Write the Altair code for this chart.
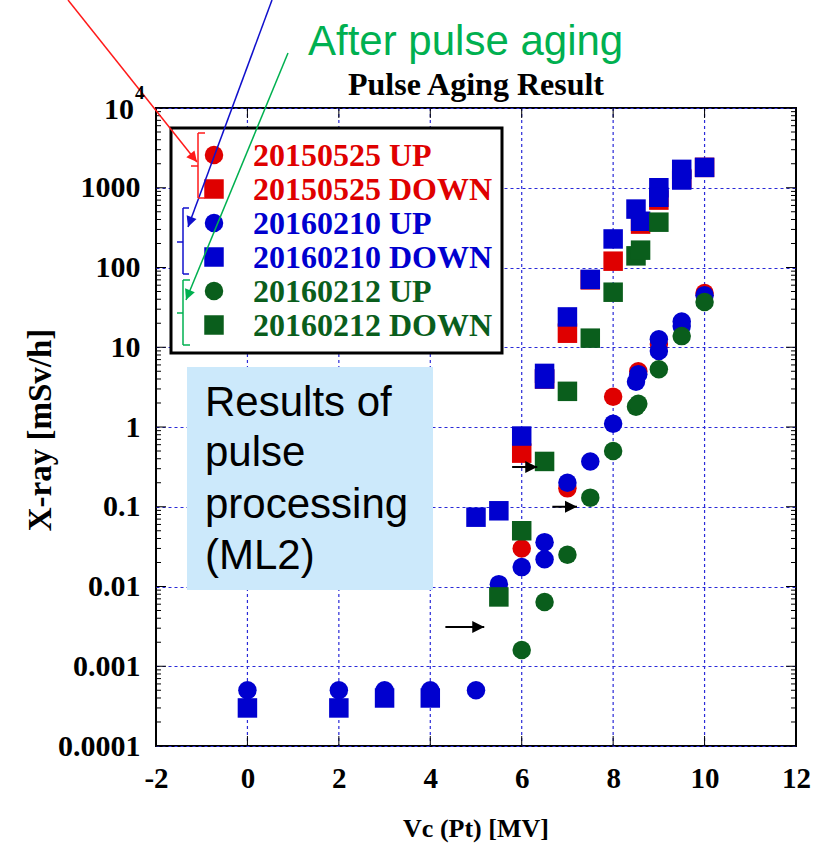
import altair as alt
import pandas as pd

# ---------------- data ----------------
x_up_150525 = [6, 7, 8, 8.55, 9, 10]
y_up_150525 = [0.030, 0.17, 2.4, 5.0, 11, 48]
x_dn_150525 = [6, 6.5, 7, 7.5, 8, 8.6, 9, 9.5, 10]
y_dn_150525 = [0.47, 4.0, 15, 70, 120, 350, 700, 1300, 1800]

x_up_160210 = [0, 2, 3, 4, 5, 5.5, 6, 6.5, 6.5, 7, 7.5, 8, 8.55, 8.5, 9, 9, 9.5, 9.5, 10]
y_up_160210 = [0.0005, 0.0005, 0.0005, 0.0005, 0.0005, 0.0107, 0.0175, 0.036, 0.022,
               0.20, 0.37, 1.1, 4.6, 3.7, 12.6, 9.0, 21, 18.5, 45]
x_dn_160210 = [0, 2, 3, 4, 5, 5.5, 6, 6.5, 6.5, 7, 7.5, 8, 8.5, 8.6, 9, 9, 9.5, 9.5, 10]
y_dn_160210 = [0.0003, 0.0003, 0.0004, 0.0004, 0.074, 0.089, 0.77, 4.7, 4.0,
               24, 71, 228, 540, 380, 1000, 760, 1700, 1250, 1800]

x_up_160212 = [6, 6.5, 7, 7.5, 8, 8.5, 8.55, 9, 9.5, 10]
y_up_160212 = [0.0016, 0.0064, 0.025, 0.13, 0.50, 1.8, 1.95, 5.3, 13.8, 37]
x_dn_160212 = [5.5, 6, 6.5, 7, 7.5, 8, 8.5, 8.6, 9]
y_dn_160212 = [0.0074, 0.050, 0.37, 2.8, 13, 49, 140, 165, 370]

series_names = ["20150525 UP", "20150525 DOWN", "20160210 UP", "20160210 DOWN",
                "20160212 UP", "20160212 DOWN"]
series_colors = ["#df0000", "#df0000", "#0000cf", "#0000cf", "#0a5e1c", "#0a5e1c"]
series_shapes = ["circle", "square", "circle", "square", "circle", "square"]
series_x = [x_up_150525, x_dn_150525, x_up_160210, x_dn_160210, x_up_160212, x_dn_160212]
series_y = [y_up_150525, y_dn_150525, y_up_160210, y_dn_160210, y_up_160212, y_dn_160212]

x_tick_values = [-2, 0, 2, 4, 6, 8, 10, 12]
x_grid_values = [0, 2, 4, 6, 8, 10]
y_tick_values = [1e-4, 1e-3, 1e-2, 1e-1, 1, 10, 100, 1000, 1e4]
y_minor_values = [k * d for d in [1e-4, 1e-3, 1e-2, 1e-1, 1, 10, 100, 1000] for k in range(2, 10)]

# black arrows inside the plot (data coordinates)
arrow_x_start = [5.79, 6.67, 4.33]
arrow_x_end = [6.34, 7.21, 5.18]
arrow_y = [0.315, 0.100, 0.0031]

# ---------------- layout ----------------
W, H = 640, 638
PL, PT = 156, 108
SERIF = "Liberation Serif"
SANS = "Liberation Sans"
GRID = "#2a2ad8"

xs = alt.Scale(domain=[-2, 12], nice=False, zero=False)
ys = alt.Scale(type="log", domain=[1e-4, 1e4], nice=False)

x_axis = alt.Axis(values=x_tick_values, ticks=False, domain=False, grid=False,
                  labelFont=SERIF, labelFontWeight="bold", labelFontSize=29,
                  labelColor="black", labelPadding=18, labelFlush=False,
                  labelOverlap=False,
                  labelExpr="replace(datum.label, '\u2212', '-')", title=None)
y_axis = alt.Axis(values=y_tick_values, ticks=False, domain=False, grid=True,
                  gridColor=GRID, gridDash=[3, 3], gridWidth=1.2,
                  labelFont=SERIF, labelFontWeight="bold", labelFontSize=30,
                  labelColor="black", labelPadding=16, labelOverlap=False,
                  format=".4~f",
                  labelExpr="datum.value > 9999 ? '' : datum.label", title=None)


def X(field="x"):
    return alt.X(f"{field}:Q", scale=xs, axis=x_axis)


def Y(field="y"):
    return alt.Y(f"{field}:Q", scale=ys, axis=y_axis)


def px(v):
    return alt.X(f"{v}:Q", scale=None, axis=None)


def py(v):
    return alt.Y(f"{v}:Q", scale=None, axis=None)


layers = []

# vertical grid lines
grid_df = pd.DataFrame({"x": x_grid_values})
layers.append(alt.Chart(grid_df).mark_rule(color=GRID, strokeDash=[3, 3], strokeWidth=1.2)
              .encode(x=X(), y=alt.value(0), y2=alt.value(H)))

# blue text box
box_df = pd.DataFrame({"x": [187 - PL], "x2": [433 - PL], "y": [367 - PT], "y2": [590 - PT]})
layers.append(alt.Chart(box_df).mark_rect(color="#cce9fb")
              .encode(x=px("x"), x2="x2:Q", y=py("y"), y2="y2:Q"))
box_lines = ["Results of", "pulse", "processing", "(ML2)"]
box_text_df = pd.DataFrame({"t": box_lines, "x": [205 - PL] * 4,
                            "y": [416 - PT, 466 - PT, 518 - PT, 569 - PT]})
layers.append(alt.Chart(box_text_df).mark_text(font=SANS, fontSize=42, align="left",
                                               baseline="alphabetic", color="black")
              .encode(x=px("x"), y=py("y"), text="t:N"))

# inward ticks
maj_y = pd.DataFrame({"y": y_tick_values})
min_y = pd.DataFrame({"y": y_minor_values})
maj_x = pd.DataFrame({"x": x_tick_values})
for df, ln in [(maj_y, 10), (min_y, 5)]:
    layers.append(alt.Chart(df).mark_rule(color="black", strokeWidth=1)
                  .encode(y=Y(), x=alt.value(0), x2=alt.value(ln)))
    layers.append(alt.Chart(df).mark_rule(color="black", strokeWidth=1)
                  .encode(y=Y(), x=alt.value(W), x2=alt.value(W - ln)))
layers.append(alt.Chart(maj_x).mark_rule(color="black", strokeWidth=1)
              .encode(x=X(), y=alt.value(H), y2=alt.value(H - 10)))
layers.append(alt.Chart(maj_x).mark_rule(color="black", strokeWidth=1)
              .encode(x=X(), y=alt.value(0), y2=alt.value(10)))

# data points
for name, col, shp, xv, yv in zip(series_names, series_colors, series_shapes, series_x, series_y):
    df = pd.DataFrame({"x": xv, "y": yv, "series": name})
    size = 342 if shp == "circle" else 380
    layers.append(alt.Chart(df).mark_point(shape=shp, filled=True, opacity=1,
                                           size=size, color=col, strokeWidth=0)
                  .encode(x=X(), y=Y()))

# black arrows
arr_df = pd.DataFrame({"xs": arrow_x_start, "xe": arrow_x_end, "y": arrow_y})
layers.append(alt.Chart(arr_df).mark_rule(color="black", strokeWidth=2)
              .encode(x=X("xs"), x2="xe:Q", y=Y()))
layers.append(alt.Chart(arr_df).mark_point(shape="M-2,-1L0,0L-2,1Z", filled=True, opacity=1,
                                           size=144, color="black", strokeWidth=0)
              .encode(x=X("xe"), y=Y()))

# legend box
leg_df = pd.DataFrame({"x": [171 - PL], "x2": [502 - PL], "y": [128 - PT], "y2": [353 - PT]})
layers.append(alt.Chart(leg_df).mark_rect(fill="white", stroke="black", strokeWidth=3)
              .encode(x=px("x"), x2="x2:Q", y=py("y"), y2="y2:Q"))
row_y = [155, 189, 223, 257, 291, 325]
leg_rows = pd.DataFrame({"t": series_names, "c": series_colors, "s": series_shapes,
                         "y": [v - PT for v in row_y], "xm": [214 - PL] * 6,
                         "xt": [253 - PL] * 6})
for shp in ["circle", "square"]:
    sub = leg_rows[leg_rows.s == shp]
    layers.append(alt.Chart(sub).mark_point(shape=shp, filled=True, opacity=1,
                                            size=342 if shp == "circle" else 380, strokeWidth=0)
                  .encode(x=px("xm"), y=py("y"), color=alt.Color("c:N", scale=None)))
layers.append(alt.Chart(leg_rows).mark_text(font=SERIF, fontWeight="bold", fontSize=32,
                                            align="left", baseline="middle", dy=1)
              .encode(x=px("xt"), y=py("y"), text="t:N", color=alt.Color("c:N", scale=None)))

# colored annotation lines / brackets (page pixel positions)
RED, BLUE, GREEN = "#ff1a1a", "#1010cc", "#00b050"
seg = [
    (68, 0, 197, 162, RED), (272, 0, 188, 227, BLUE), (288, 53, 186, 300, GREEN),
    (198, 133, 198, 198, RED), (198, 133, 205, 133, RED), (198, 198, 205, 198, RED),
    (191, 166, 198, 166, RED),
    (183, 208, 183, 274, BLUE), (183, 208, 189, 208, BLUE), (183, 274, 189, 274, BLUE),
    (177, 242, 183, 242, BLUE),
    (183, 280, 183, 345, GREEN), (183, 280, 190, 280, GREEN), (183, 345, 190, 345, GREEN),
    (177, 313, 183, 313, GREEN),
]
seg_df = pd.DataFrame({"x": [s[0] - PL for s in seg], "y": [s[1] - PT for s in seg],
                       "x2": [s[2] - PL for s in seg], "y2": [s[3] - PT for s in seg],
                       "c": [s[4] for s in seg]})
layers.append(alt.Chart(seg_df).mark_rule(strokeWidth=1.5)
              .encode(x=px("x"), y=py("y"), x2="x2:Q", y2="y2:Q",
                      color=alt.Color("c:N", scale=None)))
heads_df = pd.DataFrame({"x": [197 - PL, 188 - PL, 186 - PL], "y": [162 - PT, 227 - PT, 300 - PT],
                         "a": [51, 110, 112], "c": [RED, BLUE, GREEN]})
layers.append(alt.Chart(heads_df).mark_point(shape="M-2,-1L0,0L-2,1Z", filled=True, opacity=1,
                                             size=110, strokeWidth=0)
              .encode(x=px("x"), y=py("y"), angle=alt.Angle("a:Q", scale=None),
                      color=alt.Color("c:N", scale=None)))

# texts: titles, 10^4 label, annotation
title_df = pd.DataFrame({"t": ["Pulse Aging Result"], "x": [476 - PL], "y": [95 - PT]})
layers.append(alt.Chart(title_df).mark_text(font=SERIF, fontWeight="bold", fontSize=32,
                                            align="center", baseline="alphabetic", color="black")
              .encode(x=px("x"), y=py("y"), text="t:N"))
xtitle = pd.DataFrame({"t": ["Vc (Pt) [MV]"], "x": [476 - PL], "y": [837 - PT]})
layers.append(alt.Chart(xtitle).mark_text(font=SERIF, fontWeight="bold", fontSize=26,
                                          align="center", baseline="alphabetic", color="black")
              .encode(x=px("x"), y=py("y"), text="t:N"))
ytitle = pd.DataFrame({"t": ["X-ray [mSv/h]"], "x": [41 - PL], "y": [430 - PT]})
layers.append(alt.Chart(ytitle).mark_text(font=SERIF, fontWeight="bold", fontSize=33,
                                          align="center", baseline="middle", angle=270,
                                          color="black")
              .encode(x=px("x"), y=py("y"), text="t:N"))
ten = pd.DataFrame({"t": ["10"], "x": [134 - PL], "y": [110 - PT]})
layers.append(alt.Chart(ten).mark_text(font=SERIF, fontWeight="bold", fontSize=30,
                                       align="right", baseline="middle", color="black")
              .encode(x=px("x"), y=py("y"), text="t:N"))
four = pd.DataFrame({"t": ["4"], "x": [135 - PL], "y": [93 - PT]})
layers.append(alt.Chart(four).mark_text(font=SERIF, fontWeight="bold", fontSize=19,
                                        align="left", baseline="middle", color="black")
              .encode(x=px("x"), y=py("y"), text="t:N"))
after = pd.DataFrame({"t": ["After pulse aging"], "x": [308 - PL], "y": [55 - PT]})
layers.append(alt.Chart(after).mark_text(font=SANS, fontSize=42, align="left",
                                         baseline="alphabetic", color="#00b050")
              .encode(x=px("x"), y=py("y"), text="t:N"))

chart = alt.layer(*layers).properties(
    width=W, height=H,
    autosize=alt.AutoSizeParams(type="none"),
    padding={"left": PL, "top": PT, "right": 821 - PL - W, "bottom": 851 - PT - H},
    background="white",
).configure_view(stroke="black", strokeWidth=2)

chart.save("out.html", embed_options={"renderer": "svg", "actions": False})
